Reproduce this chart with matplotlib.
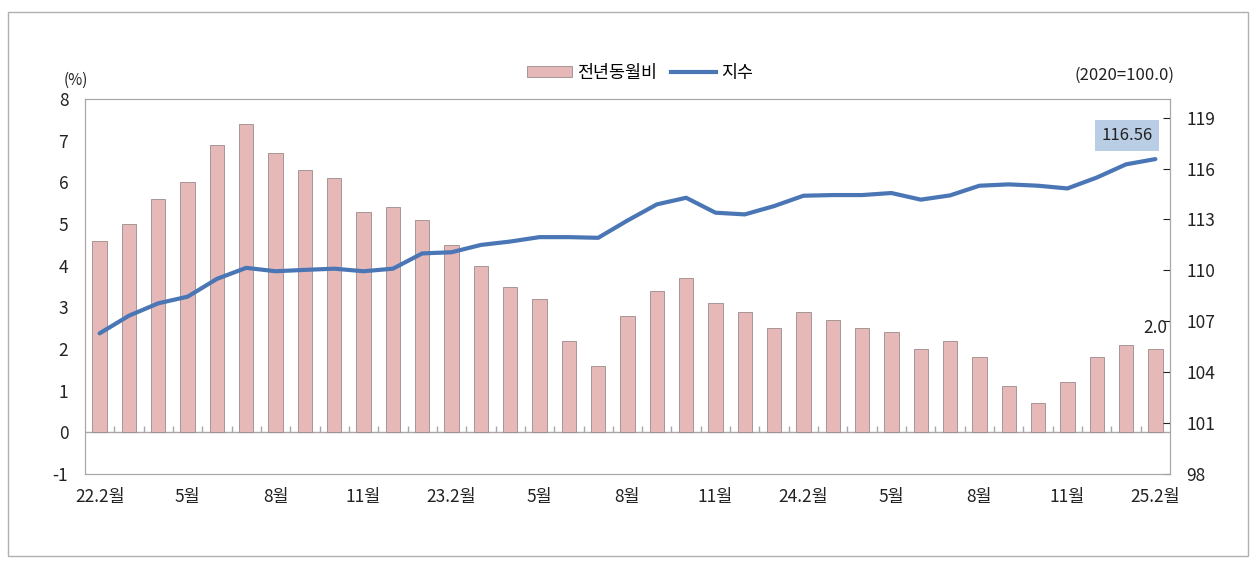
import numpy as np
import matplotlib
matplotlib.use('Agg')
import matplotlib.pyplot as plt
from matplotlib.patches import Rectangle
from matplotlib.lines import Line2D
from matplotlib.patches import Patch

plt.rcParams['font.family'] = ['Noto Sans CJK KR', 'DejaVu Sans']
plt.rcParams['axes.unicode_minus'] = False

# 22.2 ~ 25.2 (37 months)
yoy = [4.6, 5.0, 5.6, 6.0, 6.9, 7.4, 6.7, 6.3, 6.1, 5.3, 5.4, 5.1,
       4.5, 4.0, 3.5, 3.2, 2.2, 1.6, 2.8, 3.4, 3.7, 3.1, 2.9, 2.5,
       2.9, 2.7, 2.5, 2.4, 2.0, 2.2, 1.8, 1.1, 0.7, 1.2, 1.8, 2.1, 2.0]
index_vals = [106.29, 107.33, 108.06, 108.45, 109.50, 110.15, 109.95, 110.03, 110.10, 109.95, 110.10, 111.00,
              111.07, 111.50, 111.70, 111.96, 111.96, 111.92, 112.94, 113.89, 114.28, 113.40, 113.30, 113.79,
              114.40, 114.44, 114.44, 114.56, 114.17, 114.42, 114.99, 115.07, 114.99, 114.83, 115.47, 116.25, 116.56]
tick_pos = [0, 3, 6, 9, 12, 15, 18, 21, 24, 27, 30, 33, 36]
tick_labels = ['22.2월', '5월', '8월', '11월', '23.2월', '5월', '8월', '11월',
               '24.2월', '5월', '8월', '11월', '25.2월']

bar_color = '#e6b9b8'
bar_edge = '#9a8a8a'
line_color = '#4a76b5'
grid_gray = '#a6a6a6'

fig = plt.figure(figsize=(12.57, 5.62), dpi=100)
# outer frame
fig.patches.append(Rectangle((8 / 1257, 1 - 556 / 562), 1240 / 1257, 544 / 562,
                             transform=fig.transFigure, fill=False,
                             edgecolor='#b0b0b0', linewidth=1))

ax = fig.add_axes([0.0676, 0.1566, 0.8632, 0.6672])
x = np.arange(len(yoy))
ax.bar(x, yoy, width=0.49, color=bar_color, edgecolor=bar_edge, linewidth=0.6, zorder=2)
ax.set_xlim(-0.5, len(yoy) - 0.5)
ax.set_ylim(-1, 8)
ax.set_yticks(range(-1, 9))
ax.axhline(0, color=grid_gray, linewidth=1, zorder=1)
# small category boundary marks on the zero line
ax.plot(x[:-1] + 0.5, np.zeros(len(x) - 1), linestyle='none', marker=2,
        markersize=4, color=grid_gray, markeredgewidth=1, zorder=1)

ax.set_xticks(tick_pos)
ax.set_xticklabels(tick_labels)
ax.tick_params(axis='x', length=0, pad=10, labelsize=12.5, colors='#222222')
ax.tick_params(axis='y', length=0, pad=12, labelsize=12.5, colors='#222222')
for s in ax.spines.values():
    s.set_color(grid_gray)

ax2 = ax.twinx()
ax2.plot(x, index_vals, color=line_color, linewidth=3, solid_capstyle='round', zorder=3)
ax2.set_ylim(98, 120.1)
ax2.set_yticks(range(98, 120, 3))
ax2.tick_params(axis='y', direction='in', length=5, color=grid_gray, pad=12,
                labelsize=12.5, colors='#222222')
ax2.tick_params(axis='y', colors='#222222')
for s in ax2.spines.values():
    s.set_color(grid_gray)

# annotations
ax2.annotate(f'{index_vals[-1]:.2f}', (x[-1], index_vals[-1]), xytext=(-2, 17),
             textcoords='offset points', ha='right', va='center', fontsize=12,
             color='#222222',
             bbox=dict(boxstyle='square,pad=0.4', facecolor='#b9cde5', edgecolor='none'))
ax.annotate(f'{yoy[-1]:.1f}', (x[-1], yoy[-1]), xytext=(0, 9),
            textcoords='offset points', ha='center', va='bottom', fontsize=12.5,
            color='#222222')

fig.text(88 / 1257, 1 - 80 / 562, '(%)', ha='right', va='center', fontsize=11, color='#222222')
fig.text(1175 / 1257, 1 - 75 / 562, '(2020=100.0)', ha='right', va='center', fontsize=12,
         color='#222222')

handles = [Patch(facecolor=bar_color, edgecolor=bar_edge, linewidth=0.6),
           Line2D([0], [0], color=line_color, linewidth=3)]
fig.legend(handles, ['전년동월비', '지수'], loc='center', bbox_to_anchor=(640 / 1257, 1 - 73 / 562),
           ncol=2, frameon=False, fontsize=12.5, handlelength=2.6, handletextpad=0.3,
           columnspacing=0.8, handleheight=0.6)

fig.savefig('out.png', dpi=100)
